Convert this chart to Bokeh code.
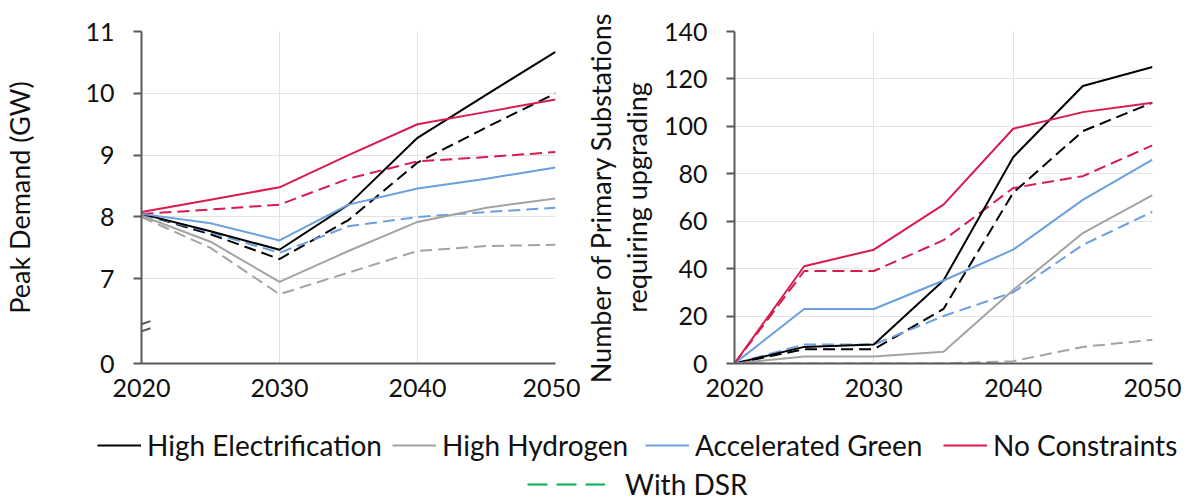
from bokeh.plotting import figure
from bokeh.layouts import column, row
from bokeh.models import Range1d, FixedTicker, Arrow, Legend, LegendItem
from bokeh.embed import file_html
from bokeh.resources import INLINE

years = [2020, 2025, 2030, 2035, 2040, 2045, 2050]

# Peak demand (GW)
pd_he = [8.05, 7.77, 7.47, 8.20, 9.28, 9.98, 10.67]
pd_he_dsr = [8.05, 7.72, 7.32, 7.95, 8.88, 9.45, 10.00]
pd_hh = [8.02, 7.60, 6.95, 7.45, 7.92, 8.15, 8.30]
pd_hh_dsr = [8.00, 7.50, 6.75, 7.10, 7.45, 7.53, 7.55]
pd_ag = [8.05, 7.90, 7.62, 8.20, 8.46, 8.62, 8.80]
pd_ag_dsr = [8.05, 7.75, 7.42, 7.85, 8.00, 8.08, 8.15]
pd_nc = [8.08, 8.28, 8.48, 9.00, 9.50, 9.70, 9.90]
pd_nc_dsr = [8.05, 8.12, 8.20, 8.62, 8.90, 8.97, 9.05]

# Primary substations requiring upgrading
ps_he = [0, 7, 8, 35, 87, 117, 125]
ps_he_dsr = [0, 6, 6, 23, 72, 98, 110]
ps_hh = [0, 3, 3, 5, 31, 55, 71]
ps_hh_dsr = [0, 0, 0, 0, 1, 7, 10]
ps_ag = [0, 23, 23, 35, 48, 69, 86]
ps_ag_dsr = [0, 8, 8, 20, 30, 50, 64]
ps_nc = [0, 41, 48, 67, 99, 106, 110]
ps_nc_dsr = [0, 39, 39, 52, 74, 79, 92]

left_ticks = [5.63, 7, 8, 9, 10, 11]
left_tick_labels = {5.63: "0"}
right_ticks = [0, 20, 40, 60, 80, 100, 120, 140]
x_ticks = [2020, 2030, 2040, 2050]

series_names = ["High Electrification", "High Hydrogen", "Accelerated Green", "No Constraints"]
colors = ["#000000", "#a3a3a3", "#6a9fe0", "#d81b4f"]
DSR_COLOR = "#00b050"

FONT = "Lato"
TEXT_COLOR = "#111111"
AXIS_COLOR = "#595959"
GRID_COLOR = "#e3e3e3"
DASH = "12 6"


def style(p, yticks):
    p.xaxis.ticker = FixedTicker(ticks=x_ticks)
    p.yaxis.ticker = FixedTicker(ticks=yticks)
    p.xgrid.ticker = FixedTicker(ticks=x_ticks)
    p.ygrid.ticker = FixedTicker(ticks=yticks)
    for ax in (p.xaxis[0], p.yaxis[0]):
        ax.major_label_text_font = FONT
        ax.major_label_text_font_size = "25px"
        ax.major_label_text_color = TEXT_COLOR
        ax.axis_line_color = AXIS_COLOR
        ax.major_tick_line_color = AXIS_COLOR
        ax.minor_tick_line_color = None
        ax.axis_label_text_font = FONT
        ax.axis_label_text_font_size = "27px"
        ax.axis_label_text_font_style = "normal"
        ax.axis_label_text_color = TEXT_COLOR
    p.xaxis.axis_line_width = 2
    p.xaxis.major_tick_line_color = None
    p.xaxis.major_label_standoff = 9
    p.yaxis.axis_line_width = 2
    p.yaxis.major_tick_line_width = 2
    p.yaxis.major_tick_out = 8
    p.yaxis.major_tick_in = 0
    p.yaxis.major_label_standoff = 19
    p.xgrid.grid_line_color = GRID_COLOR
    p.ygrid.grid_line_color = GRID_COLOR
    p.outline_line_color = None


def draw(p, data):
    for (solid, dashed), c in zip(data, colors):
        p.line(years, dashed, line_color=c, line_width=2, line_dash=DASH)
    for (solid, dashed), c in zip(data, colors):
        p.line(years, solid, line_color=c, line_width=2)


left = figure(width=580, height=400, output_backend="svg", toolbar_location=None,
              x_range=Range1d(2020, 2050), y_range=Range1d(5.63, 11),
              min_border_left=133, min_border_right=25, min_border_top=31, min_border_bottom=37)
style(left, left_ticks)
left.yaxis.major_label_overrides = left_tick_labels
left.yaxis.axis_label = "Peak Demand (GW)"
left.yaxis.axis_label_standoff = 46
draw(left, [(pd_he, pd_he_dsr), (pd_hh, pd_hh_dsr), (pd_ag, pd_ag_dsr), (pd_nc, pd_nc_dsr)])
# axis break marks
for y0 in (6.10, 6.215):
    left.add_layout(Arrow(end=None, x_start=2019.35, y_start=y0, x_end=2020.65, y_end=y0 + 0.1,
                          line_color=AXIS_COLOR, line_width=2))

right = figure(width=614, height=400, output_backend="svg", toolbar_location=None,
               x_range=Range1d(2020, 2050), y_range=Range1d(0, 140),
               min_border_left=148, min_border_right=42, min_border_top=31, min_border_bottom=37)
style(right, right_ticks)
right.yaxis.axis_label = "Number of Primary Substations\nrequiring upgrading"
right.yaxis.axis_label_standoff = 8
right.yaxis.axis_label_text_line_height = 1.1
draw(right, [(ps_he, ps_he_dsr), (ps_hh, ps_hh_dsr), (ps_ag, ps_ag_dsr), (ps_nc, ps_nc_dsr)])

# legend figure
leg = figure(width=1194, height=104, output_backend="svg", toolbar_location=None,
             x_range=Range1d(0, 1), y_range=Range1d(0, 1), min_border=0)
leg.axis.visible = False
leg.grid.visible = False
leg.outline_line_color = None

legend_x = [97, 392, 645, 943]
for name, c, lx in zip(series_names, colors, legend_x):
    r = leg.line([5, 6], [5, 6], line_color=c, line_width=2)
    lg = Legend(items=[LegendItem(label=name, renderers=[r])], location=(lx, 42),
                orientation="horizontal", glyph_width=44, label_standoff=6,
                label_text_font=FONT, label_text_font_size="28px", label_text_color=TEXT_COLOR,
                background_fill_alpha=0, border_line_color=None, padding=0, margin=0,
                label_height=30, glyph_height=30)
    leg.add_layout(lg)

r = leg.line([5, 6], [5, 6], line_color=DSR_COLOR, line_width=2, line_dash="20 9")
lg = Legend(items=[LegendItem(label="With DSR", renderers=[r])], location=(527, 3),
            orientation="horizontal", glyph_width=78, label_standoff=20,
            label_text_font=FONT, label_text_font_size="28px", label_text_color=TEXT_COLOR,
            background_fill_alpha=0, border_line_color=None, padding=0, margin=0,
            label_height=28, glyph_height=28)
leg.add_layout(lg)

layout = column(row(left, right), leg)
open("out.html", "w").write(file_html(layout, INLINE))
